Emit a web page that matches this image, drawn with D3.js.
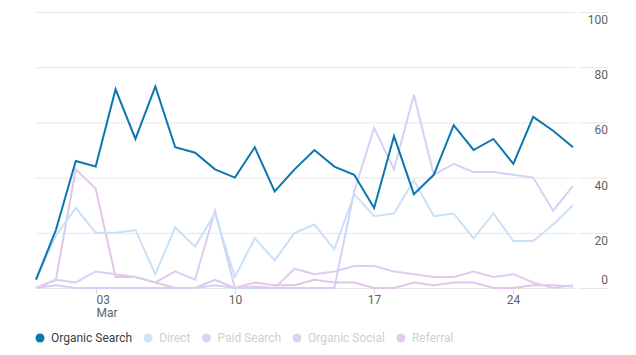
<!DOCTYPE html>
<html>
<head>
<meta charset="utf-8">
<script src="https://cdn.jsdelivr.net/npm/d3@7"></script>
<style>
  html, body { margin: 0; padding: 0; background: #fff; }
  svg { display: block; font-family: Roboto, "Noto Sans", Arial, sans-serif; }
</style>
</head>
<body>
<svg id="chart" width="636" height="355"></svg>
<script>
// ---- data ----
const startDate = "2024-02-29";
const dayCount = 28;
const seriesNames = ["Organic Search", "Direct", "Paid Search", "Organic Social", "Referral"];
const organicSearch = [3,21,46,44,72,54,73,51,49,43,40,51,35,43,50,44,41,29,55,34,41,59,50,54,45,62,57,51];
const direct        = [3,19,29,20,20,21,5,22,15,27,4,18,10,20,23,14,34,26,27,39,26,27,18,27,17,17,23,30];
const paidSearch    = [0,1,0,0,0,0,0,0,0,1,0,0,0,0,0,0,35,58,43,70,41,45,42,42,41,40,28,37];
const organicSocial = [0,3,2,6,5,4,2,6,3,28,0,0.5,0,7,5,6,8,8,6,5,4,4,6,4,5,2,0,1];
const referral      = [0,3,43,36,4,4,2,0,0,3,0,2,1,1,3,2,2,0,0,2,1,2,2,0,0,1,1,0.5];
const yTicks = [0,20,40,60,80,100];
const xTickLabels = ["03\nMar","10","17","24"];

const colors = ["#0b77ad", "#c8e1f8", "#d3d2f6", "#dccdf1", "#e1c6e9"];
const legendColors = ["#0b77ad", "#cfe4f8", "#d8d6f7", "#ddd1f2", "#e3cbe9"];

const allSeries = [organicSearch, direct, paidSearch, organicSocial, referral];

// ---- layout ----
const svg = d3.select("#chart");
const t0 = d3.timeParse("%Y-%m-%d")(startDate);
const dates = d3.range(dayCount).map(i => d3.timeDay.offset(t0, i));

const x = d3.scaleTime().domain([dates[0], dates[dates.length - 1]]).range([36, 573]);
const y = d3.scaleLinear().domain([0, 100]).range([288, 12]);

// gridlines
const grid = svg.append("g");
yTicks.forEach(v => {
  grid.append("line")
    .attr("x1", 36).attr("x2", 575)
    .attr("y1", y(v) + 0.5).attr("y2", y(v) + 0.5)
    .attr("stroke", "#e8e8e8").attr("stroke-width", 1);
  grid.append("line")
    .attr("x1", 578).attr("x2", 608)
    .attr("y1", y(v) + 0.5).attr("y2", y(v) + 0.5)
    .attr("stroke", "#e8e8e8").attr("stroke-width", 1);
});

// right axis labels
const yLab = svg.append("g");
yTicks.forEach(v => {
  yLab.append("text")
    .attr("x", 608)
    .attr("y", v === 0 ? y(v) - 4 : y(v) + 12)
    .attr("text-anchor", "end")
    .attr("font-size", 12)
    .attr("fill", "#5f6368")
    .text(v);
});

// x axis ticks
const tickDates = d3.timeWeek.every(1).range(dates[0], d3.timeDay.offset(dates[dates.length - 1], 1));
const xAx = svg.append("g");
tickDates.forEach((d, i) => {
  const px = Math.round(x(d)) + 0.5;
  xAx.append("line")
    .attr("x1", px).attr("x2", px)
    .attr("y1", 288).attr("y2", 294)
    .attr("stroke", "#dcdcdc");
  const lines = (xTickLabels[i] || d3.timeFormat("%d")(d)).split("\n");
  lines.forEach((ln, k) => {
    xAx.append("text")
      .attr("x", px)
      .attr("y", 304 + k * 13)
      .attr("text-anchor", lines.length > 1 ? "start" : "middle")
      .attr("font-size", 12)
      .attr("fill", "#5f6368")
      .text(ln);
  });
});

// lines
const lineGen = d3.line()
  .x((d, i) => x(dates[i]))
  .y(d => y(d));

const lineG = svg.append("g");
for (let s = allSeries.length - 1; s >= 0; s--) {
  lineG.append("path")
    .datum(allSeries[s])
    .attr("d", lineGen)
    .attr("fill", "none")
    .attr("stroke", colors[s])
    .attr("stroke-width", 2)
    .attr("stroke-linejoin", "miter");
}

// legend
const leg = svg.append("g");
let lx = 40;
seriesNames.forEach((name, i) => {
  leg.append("circle")
    .attr("cx", lx).attr("cy", 338).attr("r", 4.5)
    .attr("fill", legendColors[i]);
  const t = leg.append("text")
    .attr("x", lx + 11).attr("y", 342)
    .attr("font-size", 12)
    .attr("fill", i === 0 ? "#3c4043" : "#cfcfcf")
    .text(name);
  const w = t.node().getComputedTextLength();
  lx = lx + 11 + w + 16;
});
</script>
</body>
</html>
